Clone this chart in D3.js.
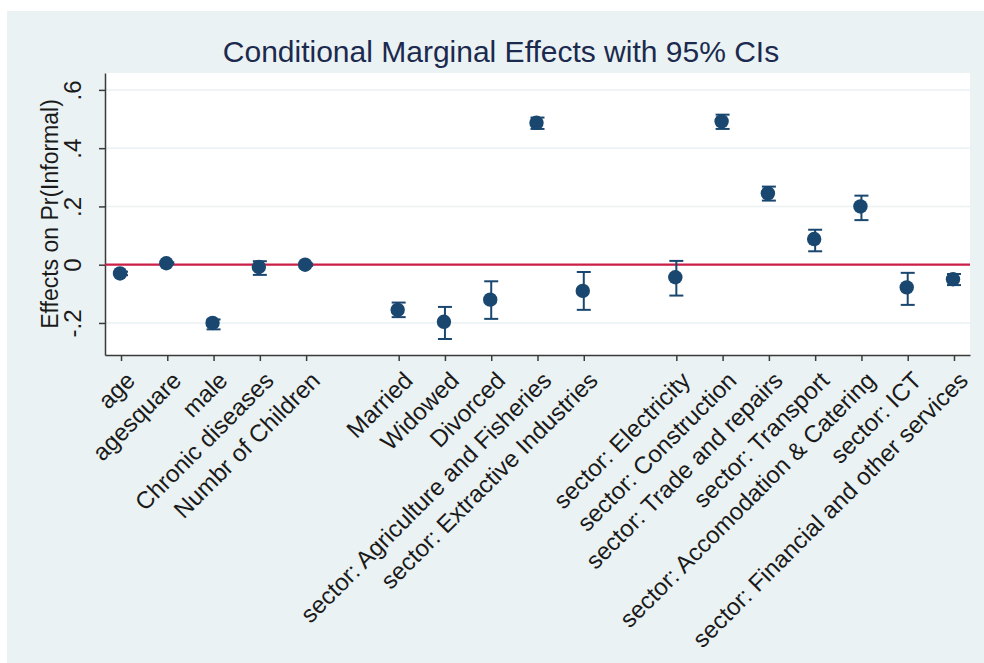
<!DOCTYPE html>
<html lang="en">
<head>
    <meta charset="UTF-8">
    <title>Conditional Marginal Effects</title>
    <script src="https://d3js.org/d3.v7.min.js"></script>
    <style>
        body { margin: 0; background: #fff; }
        svg { display: block; font-family: "Liberation Sans", Arial, Helvetica, sans-serif; }
        .axis path, .axis line { stroke: #3a3a3a; stroke-width: 1.5; }
        .axis text { fill: #1a1a1a; font-size: 24px; }
    </style>
</head>
<body>
    <svg id="chart" width="984" height="663"></svg>
    <script>
        // variables in the order they appear on the x axis
        const terms = ["age", "agesquare", "male", "Chronic diseases", "Numbr of Children",
            "Married", "Widowed", "Divorced", "sector: Agriculture and Fisheries", "sector: Extractive Industries",
            "sector: Electricity", "sector: Construction", "sector: Trade and repairs", "sector: Transport",
            "sector: Accomodation & Catering", "sector: ICT", "sector: Financial and other services"];
        // which block each term belongs to (a blank slot is left between blocks)
        const blocks = [0, 0, 0, 0, 0, 1, 1, 1, 1, 1, 2, 2, 2, 2, 2, 2, 2];
        const effect = [-0.030, 0.005, -0.200, -0.008, 0.000, -0.155, -0.196, -0.120, 0.487, -0.090,
            -0.043, 0.492, 0.245, 0.088, 0.200, -0.078, -0.050];
        const ciLow = [-0.036, 0.002, -0.222, -0.035, -0.004, -0.180, -0.255, -0.186, 0.466, -0.155,
            -0.106, 0.466, 0.220, 0.046, 0.153, -0.138, -0.070];
        const ciHigh = [-0.024, 0.008, -0.188, 0.012, 0.004, -0.130, -0.145, -0.057, 0.505, -0.025,
            0.013, 0.515, 0.268, 0.120, 0.237, -0.028, -0.032];
        const yTicks = [-0.2, 0, 0.2, 0.4, 0.6];
        const yTickLabels = ["-.2", "0", ".2", ".4", ".6"];

        const W = 984, H = 663;
        const plot = { left: 105, right: 970, top: 73, bottom: 355 };
        const navy = "#1a476f";

        const svg = d3.select("#chart");

        // stata style outer panel
        svg.append("rect").attr("x", 7).attr("y", 11).attr("width", W - 7).attr("height", H - 11)
            .attr("fill", "#eaf2f3");
        svg.append("rect").attr("x", plot.left).attr("y", plot.top)
            .attr("width", plot.right - plot.left).attr("height", plot.bottom - plot.top)
            .attr("fill", "#fff");

        const pos = terms.map((t, i) => i + blocks[i]);
        const x = d3.scaleLinear().domain([-0.346, 18.346]).range([plot.left, plot.right]);
        const y = d3.scaleLinear().domain([-0.31, 0.658]).range([plot.bottom, plot.top]);

        // grid lines
        svg.append("g").selectAll("line").data(yTicks).join("line")
            .attr("x1", plot.left).attr("x2", plot.right)
            .attr("y1", d => y(d)).attr("y2", d => y(d))
            .attr("stroke", "#eaf2f3").attr("stroke-width", 1.5);

        // y axis, labels turned vertical like stata
        const yAxis = svg.append("g").attr("class", "axis")
            .attr("transform", `translate(${plot.left},0)`)
            .call(d3.axisLeft(y).tickValues(yTicks).tickSize(6).tickSizeOuter(0)
                .tickFormat((d, i) => yTickLabels[i]));
        yAxis.selectAll(".tick text")
            .attr("x", 0).attr("y", 0).attr("dy", 0)
            .attr("text-anchor", "middle")
            .attr("transform", "translate(-24,0) rotate(-90)");

        // x axis with slanted labels
        const xAxis = svg.append("g").attr("class", "axis")
            .attr("transform", `translate(0,${plot.bottom})`)
            .call(d3.axisBottom(x).tickValues(pos).tickSize(6).tickSizeOuter(0)
                .tickFormat((d, i) => terms[i]));
        xAxis.selectAll(".tick text")
            .attr("text-anchor", "end")
            .attr("x", 0).attr("y", 0).attr("dy", "0.35em")
            .attr("transform", "translate(9,21) rotate(-45)");

        // zero reference line
        svg.append("line")
            .attr("x1", plot.left).attr("x2", plot.right)
            .attr("y1", y(0)).attr("y2", y(0))
            .attr("stroke", "#cc1f48").attr("stroke-width", 2.2);

        // confidence intervals with caps
        const ci = svg.append("g").attr("stroke", navy).attr("stroke-width", 2).attr("fill", "none");
        terms.forEach((t, i) => {
            const cx = x(pos[i]);
            ci.append("line").attr("x1", cx).attr("x2", cx).attr("y1", y(ciLow[i])).attr("y2", y(ciHigh[i]));
            ci.append("line").attr("x1", cx - 7).attr("x2", cx + 7).attr("y1", y(ciLow[i])).attr("y2", y(ciLow[i]));
            ci.append("line").attr("x1", cx - 7).attr("x2", cx + 7).attr("y1", y(ciHigh[i])).attr("y2", y(ciHigh[i]));
        });

        // point estimates
        svg.append("g").selectAll("circle").data(effect).join("circle")
            .attr("cx", (d, i) => x(pos[i]) - 1)
            .attr("cy", d => y(d))
            .attr("r", 7.2)
            .attr("fill", navy);

        // titles
        svg.append("text")
            .attr("x", 501).attr("y", 62)
            .attr("text-anchor", "middle")
            .attr("font-size", 30)
            .attr("fill", "#1b2a4e")
            .text("Conditional Marginal Effects with 95% CIs");

        svg.append("text")
            .attr("transform", `translate(58,${(plot.top + plot.bottom) / 2}) rotate(-90)`)
            .attr("text-anchor", "middle")
            .attr("font-size", 23)
            .attr("fill", "#1a1a1a")
            .text("Effects on Pr(Informal)");
    </script>
</body>
</html>
